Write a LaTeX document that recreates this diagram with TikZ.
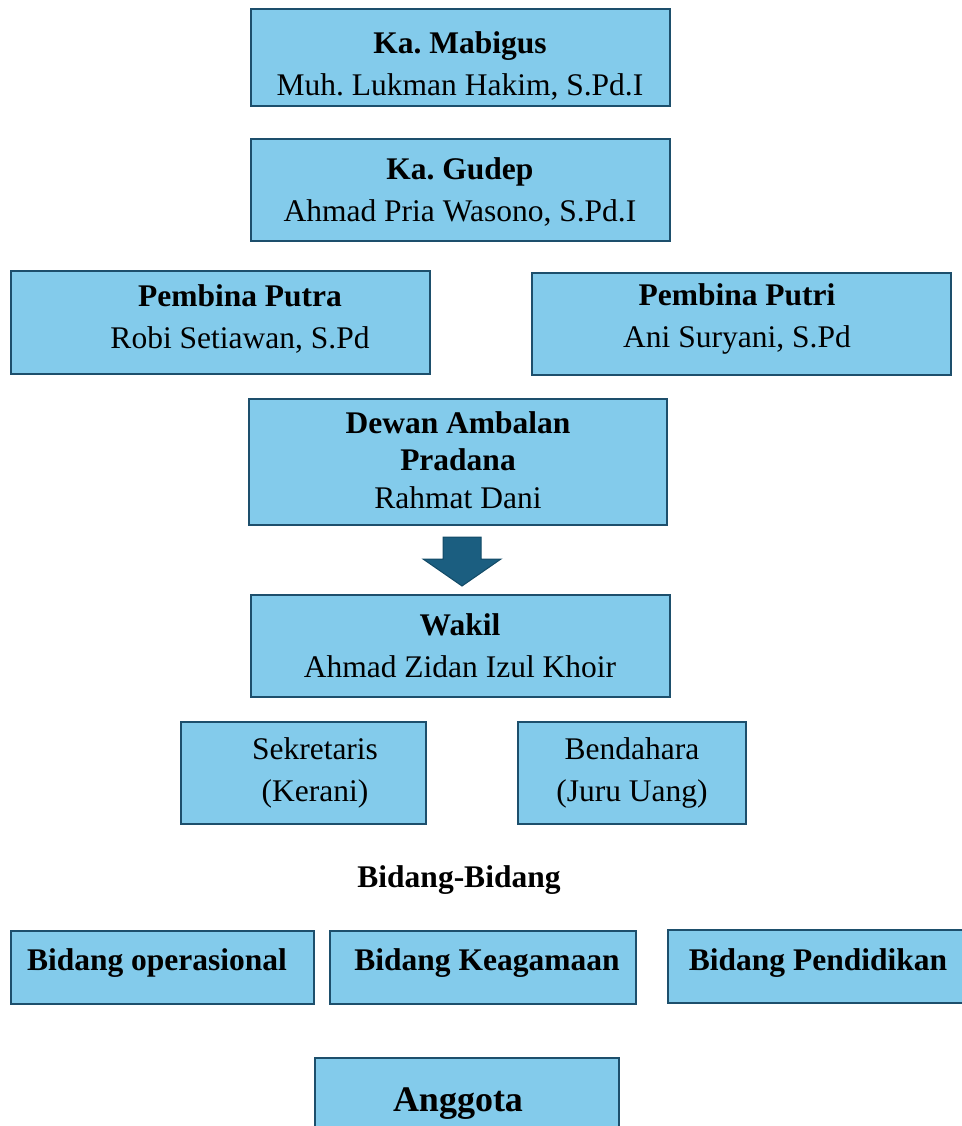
\documentclass[tikz,border=0pt]{standalone}
\usepackage{fontspec}
\setmainfont{Liberation Serif}
\frenchspacing
\begin{document}
\begin{tikzpicture}[x=1pt,y=-1pt,
  box/.style={draw=boxline,fill=boxfill,line width=2.5pt,inner sep=0pt},
  txt/.style={inner sep=0pt,align=center,font=\fontsize{31.5}{42}\selectfont},
  txtd/.style={inner sep=0pt,align=center,font=\fontsize{31.5}{37.5}\selectfont},
  arrowshape/.style={draw=arrowline,fill=arrowfill,line width=1pt}]
\definecolor{boxfill}{HTML}{83CBEB}
\definecolor{boxline}{HTML}{1D4F6C}
\definecolor{arrowfill}{HTML}{1B5E80}
\definecolor{arrowline}{HTML}{124A66}
\useasboundingbox (0,0) rectangle (961,1126);
% boxes
\node[box,minimum width=419pt,minimum height=97pt] (b1) at (460.5,57.5) {};
\node[box,minimum width=419pt,minimum height=102pt] (b2) at (460.5,190) {};
\node[box,minimum width=419pt,minimum height=103pt] (b3) at (220.5,322.5) {};
\node[box,minimum width=419pt,minimum height=102pt] (b4) at (741.5,324) {};
\node[box,minimum width=418pt,minimum height=126pt] (b5) at (458,462) {};
\node[box,minimum width=419pt,minimum height=102pt] (b6) at (460.5,646) {};
\node[box,minimum width=245pt,minimum height=102pt] (b7) at (303.5,773) {};
\node[box,minimum width=228pt,minimum height=102pt] (b8) at (632,773) {};
\node[box,minimum width=303pt,minimum height=73pt] (b9) at (162.5,967.5) {};
\node[box,minimum width=306pt,minimum height=73pt] (b10) at (483,967.5) {};
\node[box,minimum width=300pt,minimum height=73pt] (b11) at (818,966.5) {};
\node[box,minimum width=304pt,minimum height=80pt] (b12) at (467,1098) {};
% arrow
\draw[arrowshape] (443,537) -- (481,537) -- (481,559) -- (501,559) -- (462,586) -- (423,559) -- (443,559) -- cycle;
% texts
\node[txt] (t1) at (460,66) {\textbf{Ka. Mabigus}\\Muh. Lukman Hakim, S.Pd.I};
\node[txt] (t2) at (460,192) {\textbf{Ka. Gudep}\\Ahmad Pria Wasono, S.Pd.I};
\node[txt] (t3) at (240,319) {\textbf{Pembina Putra}\\Robi Setiawan, S.Pd};
\node[txt] (t4) at (737,319) {\textbf{Pembina Putri}\\Ani Suryani, S.Pd};
\node[txtd] (t5) at (458,460) {\textbf{Dewan Ambalan}\\\textbf{Pradana}\\Rahmat Dani};
\node[txt] (t6) at (460,646) {\textbf{Wakil}\\Ahmad Zidan Izul Khoir};
\node[txt] (t7) at (315,773) {Sekretaris\\(Kerani)};
\node[txt] (t8) at (632,773) {Bendahara\\(Juru Uang)};
\node[txt] (t9) at (459,880) {\textbf{Bidang-Bidang}};
\node[txt] (t10) at (157,963) {\textbf{Bidang operasional}};
\node[txt] (t11) at (487,963) {\textbf{Bidang Keagamaan}};
\node[txt] (t12) at (818,963) {\textbf{Bidang Pendidikan}};
\node[inner sep=0pt,font=\fontsize{36}{42}\selectfont\bfseries] (t13) at (458,1104) {Anggota};
\end{tikzpicture}
\end{document}
